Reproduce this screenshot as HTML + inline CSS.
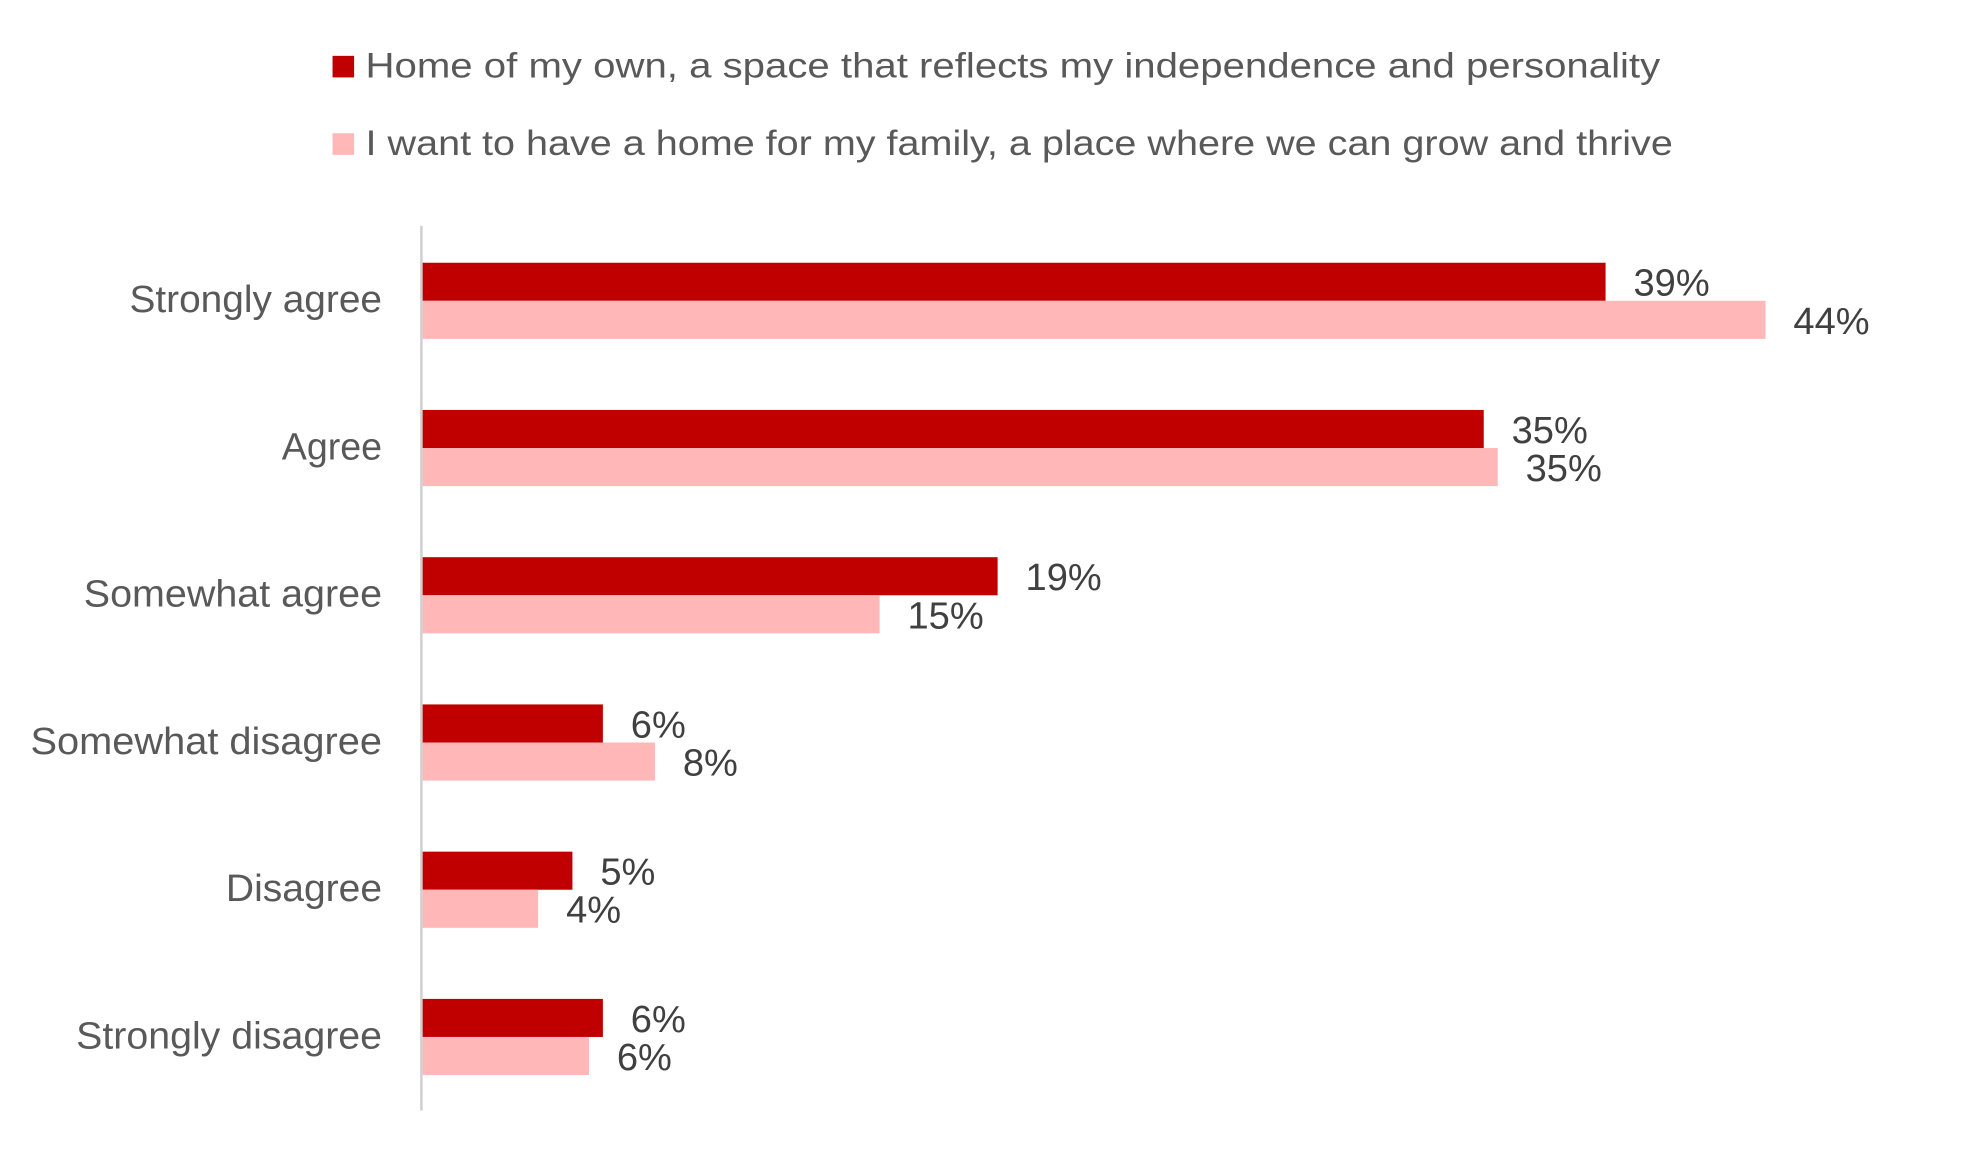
<!DOCTYPE html>
<html><head><meta charset="utf-8"><style>
html,body{margin:0;padding:0;background:#fff;}
svg{display:block;}
text{font-family:"Liberation Sans",sans-serif;}
.c{fill:#595959;font-size:28px;}
.k{fill:#595959;font-size:30px;}
.v{fill:#404040;font-size:30px;}
</style></head><body>
<svg width="1980" height="1155" viewBox="0 0 1560 910" preserveAspectRatio="none">
<rect x="262" y="44" width="17" height="17" fill="#C00000"/>
<text class="c" x="288" y="61" textLength="1020" lengthAdjust="spacingAndGlyphs">Home of my own, a space that reflects my independence and personality</text>
<rect x="262" y="105" width="17" height="17" fill="#FFB7B7"/>
<text class="c" x="288" y="122" textLength="1030" lengthAdjust="spacingAndGlyphs">I want to have a home for my family, a place where we can grow and thrive</text>
<line x1="332" y1="178" x2="332" y2="875" stroke="#d0d0d0" stroke-width="2"/>
<g>
<rect x="333" y="207" width="932" height="30" fill="#C00000"/><rect x="333" y="237" width="1058" height="30" fill="#FFB7B7"/>
<rect x="333" y="323" width="836" height="30" fill="#C00000"/><rect x="333" y="353" width="847" height="30" fill="#FFB7B7"/>
<rect x="333" y="439" width="453" height="30" fill="#C00000"/><rect x="333" y="469" width="360" height="30" fill="#FFB7B7"/>
<rect x="333" y="555" width="142" height="30" fill="#C00000"/><rect x="333" y="585" width="183" height="30" fill="#FFB7B7"/>
<rect x="333" y="671" width="118" height="30" fill="#C00000"/><rect x="333" y="701" width="91" height="30" fill="#FFB7B7"/>
<rect x="333" y="787" width="142" height="30" fill="#C00000"/><rect x="333" y="817" width="131" height="30" fill="#FFB7B7"/>
</g>
<g>
<text class="k" x="102" y="246" textLength="199" lengthAdjust="spacingAndGlyphs">Strongly agree</text>
<text class="k" x="222" y="362" textLength="79" lengthAdjust="spacingAndGlyphs">Agree</text>
<text class="k" x="66" y="478" textLength="235" lengthAdjust="spacingAndGlyphs">Somewhat agree</text>
<text class="k" x="24" y="594" textLength="277" lengthAdjust="spacingAndGlyphs">Somewhat disagree</text>
<text class="k" x="178" y="710" textLength="123" lengthAdjust="spacingAndGlyphs">Disagree</text>
<text class="k" x="60" y="826" textLength="241" lengthAdjust="spacingAndGlyphs">Strongly disagree</text>
</g>
<g>
<text class="v" x="1287" y="233">39%</text><text class="v" x="1413" y="263">44%</text>
<text class="v" x="1191" y="349">35%</text><text class="v" x="1202" y="379">35%</text>
<text class="v" x="808" y="465">19%</text><text class="v" x="715" y="495">15%</text>
<text class="v" x="497" y="581">6%</text><text class="v" x="538" y="611">8%</text>
<text class="v" x="473" y="697">5%</text><text class="v" x="446" y="727">4%</text>
<text class="v" x="497" y="813">6%</text><text class="v" x="486" y="843">6%</text>
</g>
</svg>
</body></html>
